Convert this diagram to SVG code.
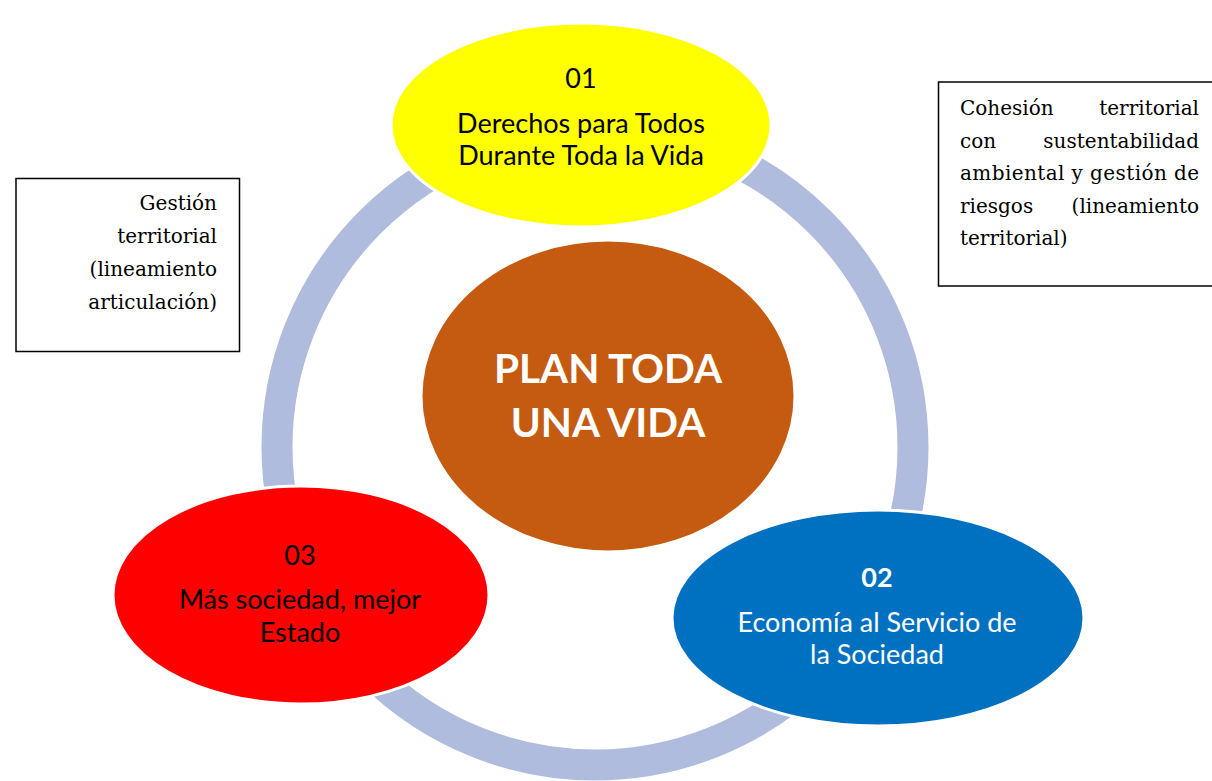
<svg xmlns="http://www.w3.org/2000/svg" width="1212" height="781" viewBox="0 0 1212 781">
<style>
.node{stroke:#ffffff;stroke-width:3}
.t{font-family:Lato,"Open Sans","DejaVu Sans",sans-serif;font-size:27px;text-anchor:middle}
.big{font-family:Lato,"Open Sans","DejaVu Sans",sans-serif;font-size:40.5px;font-weight:bold;fill:#ffffff;text-anchor:middle}
.box{fill:#ffffff;stroke:#000000;stroke-width:1.5}
.s{font-family:"DejaVu Serif","Liberation Serif",serif;font-size:20px;fill:#000000}
</style>
<rect width="1212" height="781" fill="#ffffff"/>
<g id="connectors">
<circle cx="595" cy="447" r="318" fill="none" stroke="#AFBCDE" stroke-width="31"/>
</g>
<g id="node-center">
<ellipse class="node" cx="608" cy="396" rx="187" ry="156" fill="#C55A11"/>
<text class="big" x="608" y="383">PLAN TODA</text>
<text class="big" x="608" y="437">UNA VIDA</text>
</g>
<g id="node-01">
<ellipse class="node" cx="581" cy="125" rx="190" ry="102" fill="#FFFF00"/>
<text class="t" x="581" y="88" fill="#000000">01</text>
<text class="t" x="581" y="133" fill="#000000">Derechos para Todos</text>
<text class="t" x="581" y="165" fill="#000000">Durante Toda la Vida</text>
</g>
<g id="node-02">
<ellipse class="node" cx="878" cy="618" rx="206" ry="108" fill="#0070C0"/>
<text class="t" x="877" y="587" fill="#ffffff" font-weight="bold">02</text>
<text class="t" x="877" y="632" fill="#ffffff">Economía al Servicio de</text>
<text class="t" x="877" y="664" fill="#ffffff">la Sociedad</text>
</g>
<g id="node-03">
<ellipse class="node" cx="301" cy="595" rx="188" ry="109" fill="#FF0000"/>
<text class="t" x="300" y="565" fill="#000000">03</text>
<text class="t" x="300" y="609" fill="#000000">Más sociedad, mejor</text>
<text class="t" x="300" y="642" fill="#000000">Estado</text>
</g>
<g id="box-left">
<rect class="box" x="16" y="178.5" width="223.5" height="173"/>
<text class="s" text-anchor="end" x="217" y="210">Gestión</text>
<text class="s" text-anchor="end" x="217" y="243">territorial</text>
<text class="s" text-anchor="end" x="217" y="276">(lineamiento</text>
<text class="s" text-anchor="end" x="217" y="309">articulación)</text>
</g>
<g id="box-right">
<rect class="box" x="938.5" y="82" width="290" height="204"/>
<text class="s" x="960" y="115">Cohesión</text>
<text class="s" x="1199" y="115" text-anchor="end">territorial</text>
<text class="s" x="960" y="148">con</text>
<text class="s" x="1199" y="148" text-anchor="end">sustentabilidad</text>
<text class="s" x="960" y="180" textLength="239" lengthAdjust="spacing">ambiental y gestión de</text>
<text class="s" x="960" y="213">riesgos</text>
<text class="s" x="1199" y="213" text-anchor="end">(lineamiento</text>
<text class="s" x="960" y="245">territorial)</text>
</g>
</svg>
